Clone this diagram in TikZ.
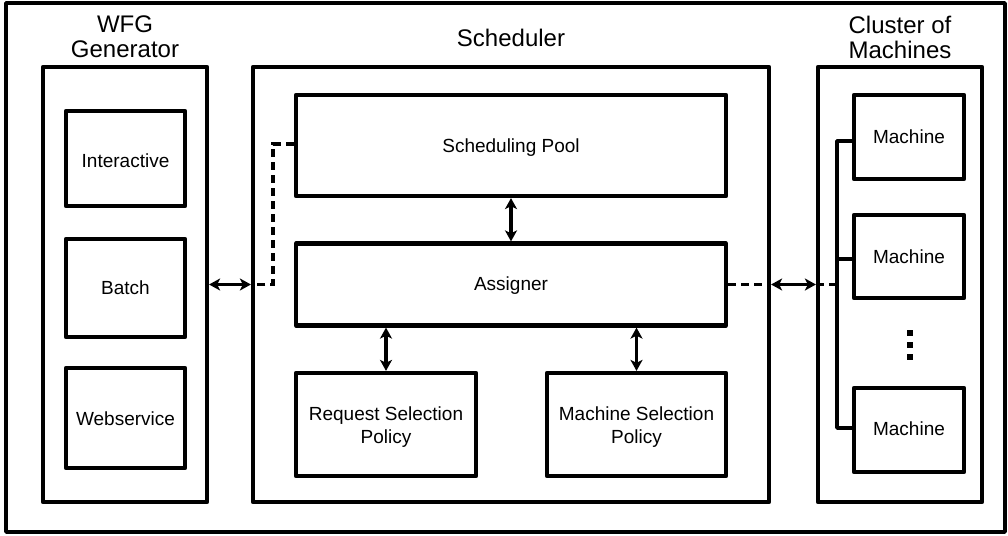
\documentclass[tikz,border=0pt]{standalone}
\usepackage{fontspec}
\setmainfont{Liberation Sans}
\usetikzlibrary{arrows.meta}

\begin{document}
\begin{tikzpicture}[x=1pt,y=-1pt,
  frame/.style={draw=black,line width=3.4pt,line join=round},
  panel/.style={draw=black,line width=4.2pt,line join=round,inner sep=0pt},
  unit/.style={draw=black,line width=4.2pt,line join=round,inner sep=0pt},
  title/.style={font=\fontsize{24}{24.5}\selectfont,align=center,inner sep=0pt},
  label/.style={font=\fontsize{19}{23}\selectfont,align=center,inner sep=0pt},
  biarrow/.style={line width=3.6pt,{Stealth[length=11pt,width=12pt,inset=3pt]}-{Stealth[length=11pt,width=12pt,inset=3pt]}},
  dashline/.style={line width=3.6pt,dash pattern=on 8pt off 5pt},
  link/.style={line width=3.8pt,line join=round}]

\useasboundingbox (0,0) rectangle (1008,535);

% outer frame
\draw[frame] (6,3) rectangle (1005,532);

% column panels
\node[panel,minimum width=164pt,minimum height=435pt] (wfg) at (125,284.5) {};
\node[panel,minimum width=516pt,minimum height=435pt] (sched) at (511,284.5) {};
\node[panel,minimum width=164pt,minimum height=435pt] (cluster) at (900,284.5) {};

% column titles
\node[title,anchor=north] (wfgT) at (125,16) {WFG\\Generator};
\node[title,anchor=base] (schedT) at (511,46) {Scheduler};
\node[title,anchor=north] (clusterT) at (900,16) {Cluster of\\Machines};

% workflow generator units
\node[unit,minimum width=119pt,minimum height=95pt] (inter) at (125.5,158.5) {};
\node[unit,minimum width=119pt,minimum height=98pt] (batch) at (125.5,288) {};
\node[unit,minimum width=119pt,minimum height=100pt] (websv) at (125.5,418) {};
\node[label,anchor=base] (interL) at (125.5,167) {Interactive};
\node[label,anchor=base] (batchL) at (125.5,294) {Batch};
\node[label,anchor=base] (websvL) at (125.5,425) {Webservice};

% scheduler units
\node[unit,minimum width=430pt,minimum height=101pt] (pool) at (511,145.5) {};
\node[unit,minimum width=430pt,minimum height=82pt] (asg) at (511,284.5) {};
\node[unit,minimum width=180pt,minimum height=103pt] (rsp) at (386,424.5) {};
\node[unit,minimum width=179pt,minimum height=103pt] (msp) at (636.5,424.5) {};
\node[label,anchor=base] (poolL) at (511,152) {Scheduling Pool};
\node[label,anchor=base] (asgL) at (511,290) {Assigner};
\node[label,anchor=north] (rspL) at (386,407) {Request Selection\\Policy};
\node[label,anchor=north] (mspL) at (636.5,407) {Machine Selection\\Policy};

% machines
\node[unit,minimum width=110pt,minimum height=84pt] (m1) at (909,137) {};
\node[unit,minimum width=110pt,minimum height=83pt] (m2) at (909,256.5) {};
\node[unit,minimum width=110pt,minimum height=84pt] (m3) at (909,430) {};
\node[label,anchor=base] (m1L) at (909,143) {Machine};
\node[label,anchor=base] (m2L) at (909,263) {Machine};
\node[label,anchor=base] (m3L) at (909,435) {Machine};

% vertical ellipsis between machines
\foreach \yy in {333,345,357}
  \fill (907,\yy-3) rectangle (913,\yy+3);

% internal scheduler links
\draw[biarrow] (pool.south) -- (asg.north);
\draw[biarrow] (rsp.north |- asg.south) -- (rsp.north);
\draw[biarrow] (msp.north |- asg.south) -- (msp.north);

% generator <-> scheduler
\coordinate (lbend) at (273,144);
\draw[dashline] (pool.west |- lbend) -- (lbend) |- (sched.west);
\draw[biarrow] (wfg.east) -- (sched.west);

% scheduler <-> cluster
\coordinate (b1) at (837,141);
\coordinate (bm) at (837,284.5);
\coordinate (b2) at (837,259);
\coordinate (b3) at (837,428);
\draw[dashline] (asg.east) -- (sched.east);
\draw[biarrow] (sched.east) -- (cluster.west);
\draw[dashline] (cluster.west) -- (bm);

% machine bus
\draw[link] (b1 -| m1.west) -- (b1) -- (b3) -- (b3 -| m3.west);
\draw[link] (b2) -- (b2 -| m2.west);

\end{tikzpicture}
\end{document}
